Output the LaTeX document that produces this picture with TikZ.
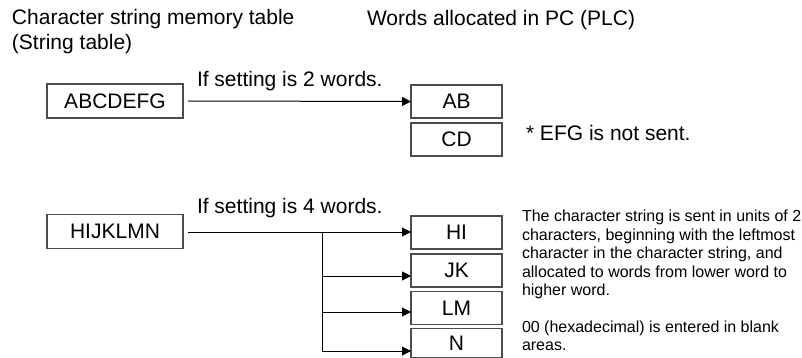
\documentclass[tikz,border=0pt]{standalone}
\usepackage{fontspec}
\setmainfont{Liberation Sans}
\usetikzlibrary{arrows.meta}
\begin{document}
\begin{tikzpicture}[x=1pt,y=-1pt,
  every node/.style={inner sep=0pt, outer sep=0pt},
  big/.style={font=\fontsize{21}{25}\selectfont},
  small/.style={font=\fontsize{16}{18.4}\selectfont},
  wordbox/.style={draw=black!70, line width=1.2pt, minimum width=91pt, minimum height=33pt, big},
  srcbox/.style={draw=black!70, line width=1.2pt, minimum width=136pt, minimum height=34pt, big},
  conn/.style={draw=black, line width=1pt, -{Triangle[length=9pt,width=9pt]}},
  plain/.style={draw=black, line width=1pt}]
\useasboundingbox (0,0) rectangle (802,358);
% headers
\node[big, anchor=base west] (h1) at (12,25) {Character string memory table};
\node[big, anchor=base west] (h2) at (12,50) {(String table)};
\node[big, anchor=base west] (h3) at (367,26) {Words allocated in PC (PLC)};
% group 1
\node[srcbox] (abc) at (115,101) {ABCDEFG};
\node[wordbox] (ab) at (456.5,101.5) {AB};
\node[wordbox] (cd) at (456.5,139.5) {CD};
\node[big, anchor=base west] (l1) at (197,87) {If setting is 2 words.};
\node[big, anchor=base west] (n1) at (526,141) {* EFG is not sent.};
\draw[conn] ([xshift=5pt]abc.east) -- (ab.west);
% group 2
\node[srcbox] (hij) at (115,231.5) {HIJKLMN};
\node[wordbox] (hi) at (456.5,232.5) {HI};
\node[wordbox] (jk) at (456.5,270.5) {JK};
\node[wordbox] (lm) at (456.5,308) {LM};
\node[wordbox, minimum height=29pt] (nn) at (456.5,343) {N};
\node[big, anchor=base west] (l2) at (197,213) {If setting is 4 words.};
\coordinate (j0) at (322,232);
\coordinate (j1) at (322,276);
\coordinate (j2) at (322,312);
\coordinate (j3) at (322,351);
\draw[conn] ([xshift=5pt]hij.east |- j0) -- (j0 -| hi.west);
\draw[plain] (j0) -- (j3);
\draw[conn] (j1) -- (j1 -| jk.west);
\draw[conn] (j2) -- (j2 -| lm.west);
\draw[conn] (j3) -- (j3 -| nn.west);
% note
\node[small, anchor=north west, align=left] (note) at (522,210.3) {The character string is sent in units of 2\\characters, beginning with the leftmost\\character in the character string, and\\allocated to words from lower word to\\higher word.\\[18.4pt]00 (hexadecimal) is entered in blank\\areas.};
\end{tikzpicture}
\end{document}
